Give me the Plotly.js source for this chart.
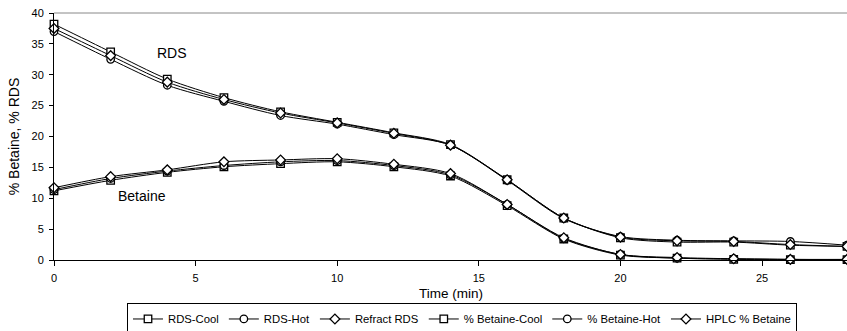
<!DOCTYPE html>
<html><head><meta charset="utf-8">
<script src="https://cdn.plot.ly/plotly-3.0.1.min.js"></script>
<style>html,body{margin:0;padding:0;background:#fff}#chart{width:847px;height:331px}</style>
</head><body><div id="chart"></div>
<script>
const time = [0, 2, 4, 6, 8, 10, 12, 14, 16, 18, 20, 22, 24, 26, 28];
const rdsCool = [38.2, 33.7, 29.3, 26.3, 24.0, 22.3, 20.6, 18.7, 13.0, 6.8, 3.6, 2.9, 2.9, 2.4, 2.2];
const rdsHot = [37.0, 32.5, 28.3, 25.7, 23.4, 22.0, 20.3, 18.6, 12.9, 6.7, 3.8, 3.2, 3.1, 3.0, 2.4];
const refractRds = [37.5, 33.1, 28.8, 26.0, 23.8, 22.2, 20.5, 18.6, 13.0, 6.8, 3.7, 3.1, 3.0, 2.5, 2.2];
const betaineCool = [11.2, 12.9, 14.2, 15.1, 15.6, 15.9, 15.1, 13.6, 8.8, 3.4, 0.8, 0.3, 0.1, 0.05, 0.05];
const betaineHot = [11.4, 13.2, 14.4, 15.3, 15.9, 16.1, 15.3, 13.8, 9.0, 3.5, 0.9, 0.3, 0.2, 0.1, 0.05];
const hplcBetaine = [11.7, 13.5, 14.6, 15.9, 16.2, 16.4, 15.5, 14.0, 9.0, 3.6, 0.9, 0.4, 0.2, 0.1, 0.1];
const seriesNames = ['RDS-Cool', 'RDS-Hot', 'Refract RDS', '% Betaine-Cool', '% Betaine-Hot', 'HPLC % Betaine'];
const seriesData = [rdsCool, rdsHot, refractRds, betaineCool, betaineHot, hplcBetaine];
const symbols = ['square', 'circle', 'diamond', 'square', 'circle', 'diamond'];

const FONT = 'Liberation Sans, Arial, sans-serif';
const traces = seriesData.map((d, i) => ({
  x: time, y: d, name: seriesNames[i], type: 'scatter', mode: 'lines+markers',
  line: {color: '#000', width: 1, shape: 'spline', smoothing: 0.8},
  marker: {symbol: symbols[i], size: 7.5, color: '#fff', line: {color: '#000', width: 1.3}},
  cliponaxis: false
}));

const layout = {
  width: 847, height: 331,
  margin: {l: 54, r: 0, t: 13, b: 71, autoexpand: false},
  paper_bgcolor: '#fff', plot_bgcolor: '#fff',
  font: {family: FONT, size: 11, color: '#000'},
  showlegend: true,
  xaxis: {
    range: [0, 28], dtick: 5, tick0: 0, showgrid: false, zeroline: false,
    showline: true, linecolor: '#000', linewidth: 1,
    ticks: 'outside', ticklen: 5, tickcolor: '#000', ticklabelstandoff: 3,
    tickfont: {family: FONT, size: 11, color: '#000'}
  },
  yaxis: {
    range: [0, 40], dtick: 5, tick0: 0, showgrid: false, zeroline: false,
    showline: true, linecolor: '#000', linewidth: 1,
    ticks: 'outside', ticklen: 4, tickcolor: '#000', ticklabelstandoff: 3,
    tickfont: {family: FONT, size: 11, color: '#000'},
    title: {text: '% Betaine, % RDS', font: {family: FONT, size: 14, color: '#000'}, standoff: 8}
  },
  legend: {
    orientation: 'h', x: 0.5145, xanchor: 'center', y: -0.176, yanchor: 'top',
    bordercolor: '#000', borderwidth: 1, bgcolor: '#fff',
    font: {family: FONT, size: 11.3, color: '#000'},
    traceorder: 'normal', itemwidth: 30, tracegroupgap: 0
  },
  shapes: [{type: 'line', xref: 'paper', yref: 'paper', x0: 0, x1: 1, y0: 1, y1: 1,
    line: {color: '#888', width: 1}}],
  annotations: [
    {x: 0.5, y: -0.134, xref: 'paper', yref: 'paper', yanchor: 'middle', text: 'Time (min)', showarrow: false,
     font: {family: FONT, size: 13.5, color: '#000'}},
    {x: 4.17, y: 33.5, xref: 'x', yref: 'y', text: 'RDS', showarrow: false,
     font: {family: FONT, size: 14, color: '#000'}},
    {x: 3.1, y: 10.3, xref: 'x', yref: 'y', text: 'Betaine', showarrow: false,
     font: {family: FONT, size: 14, color: '#000'}}
  ]
};
Plotly.newPlot('chart', traces, layout, {displayModeBar: false, staticPlot: true});
</script></body></html>
